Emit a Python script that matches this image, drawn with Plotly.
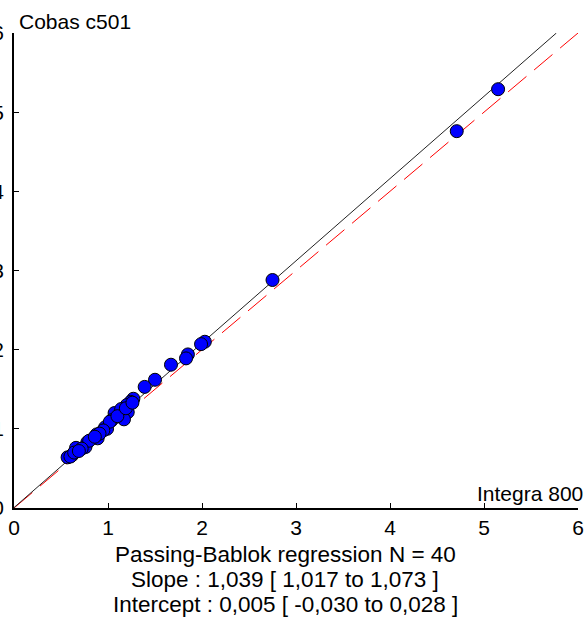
import plotly.graph_objects as go

# Data
x_vals = [5.15, 4.71, 2.75, 2.03, 1.99, 1.85, 1.83, 1.67, 1.50, 1.39,
          1.27, 1.24, 1.20, 1.21, 1.15, 1.17, 1.07, 1.04, 0.97, 0.99,
          0.88, 0.89, 0.78, 0.76, 0.66, 0.62, 0.57, 1.02, 1.14, 1.10,
          0.95, 0.91, 0.80, 0.72, 0.60, 0.64, 1.19, 1.26, 0.86, 0.69]
y_vals = [5.29, 4.76, 2.88, 2.10, 2.07, 1.94, 1.89, 1.81, 1.62, 1.53,
          1.38, 1.34, 1.30, 1.21, 1.17, 1.12, 1.20, 1.11, 1.02, 1.00,
          0.93, 0.88, 0.83, 0.77, 0.76, 0.67, 0.64, 1.09, 1.25, 1.16,
          0.98, 0.94, 0.85, 0.75, 0.65, 0.70, 1.26, 1.33, 0.90, 0.72]
slope = 1.039
intercept = 0.005
axis_max = 6
tick_vals = [0, 1, 2, 3, 4, 5, 6]
x_label = "Integra 800"
y_label = "Cobas c501"
summary_lines = [
    "Passing-Bablok regression N = 40",
    "Slope : 1,039 [ 1,017 to 1,073 ]",
    "Intercept : 0,005 [ -0,030 to 0,028 ]",
]

FONT = "Liberation Sans, Arial, sans-serif"

fig = go.Figure()

# identity line (red dashed)
fig.add_trace(go.Scatter(
    x=[0, axis_max], y=[0, axis_max], mode="lines",
    line=dict(color="#ff0000", width=1, dash="24px,10px"),
    hoverinfo="skip", showlegend=False))

# regression line (black), clipped at top of axis
x_end = (axis_max - intercept) / slope
fig.add_trace(go.Scatter(
    x=[0, x_end], y=[intercept, intercept + slope * x_end], mode="lines",
    line=dict(color="#222222", width=1),
    hoverinfo="skip", showlegend=False))

fig.add_trace(go.Scatter(
    x=x_vals, y=y_vals, mode="markers",
    marker=dict(color="#0000ff", size=13, line=dict(color="#000000", width=1)),
    showlegend=False))

axis_common = dict(
    range=[0, axis_max], tickmode="array", tickvals=tick_vals,
    ticktext=[str(t) for t in tick_vals],
    ticks="inside", ticklen=5, tickwidth=1, tickcolor="black",
    showline=True, linecolor="black", linewidth=2,
    showgrid=False, zeroline=False, mirror=False,
    tickfont=dict(family=FONT, size=21, color="black"),
    fixedrange=True,
)

fig.update_layout(
    width=585, height=619,
    margin=dict(l=14, r=7, t=33, b=111, autoexpand=False),
    plot_bgcolor="white", paper_bgcolor="white",
    xaxis=dict(**axis_common, automargin=False),
    yaxis=dict(**axis_common, automargin=False, ticklabelstandoff=4),
    font=dict(family=FONT, color="black"),
)

fig.add_annotation(text=y_label, xref="paper", yref="paper", x=0, y=1,
                   xanchor="left", yanchor="bottom", xshift=3, yshift=-2,
                   showarrow=False, font=dict(family=FONT, size=21, color="black"))
fig.add_annotation(text=x_label, xref="paper", yref="paper", x=1, y=0,
                   xanchor="right", yanchor="bottom", xshift=7, yshift=1,
                   showarrow=False, font=dict(family=FONT, size=21, color="black"))

for i, line in enumerate(summary_lines):
    fig.add_annotation(text=line, xref="paper", yref="paper", x=0.481, y=0,
                       xanchor="center", yanchor="middle",
                       yshift=-46 - 25 * i, showarrow=False,
                       font=dict(family=FONT, size=22.5, color="black"))

fig.write_html("out.html")
